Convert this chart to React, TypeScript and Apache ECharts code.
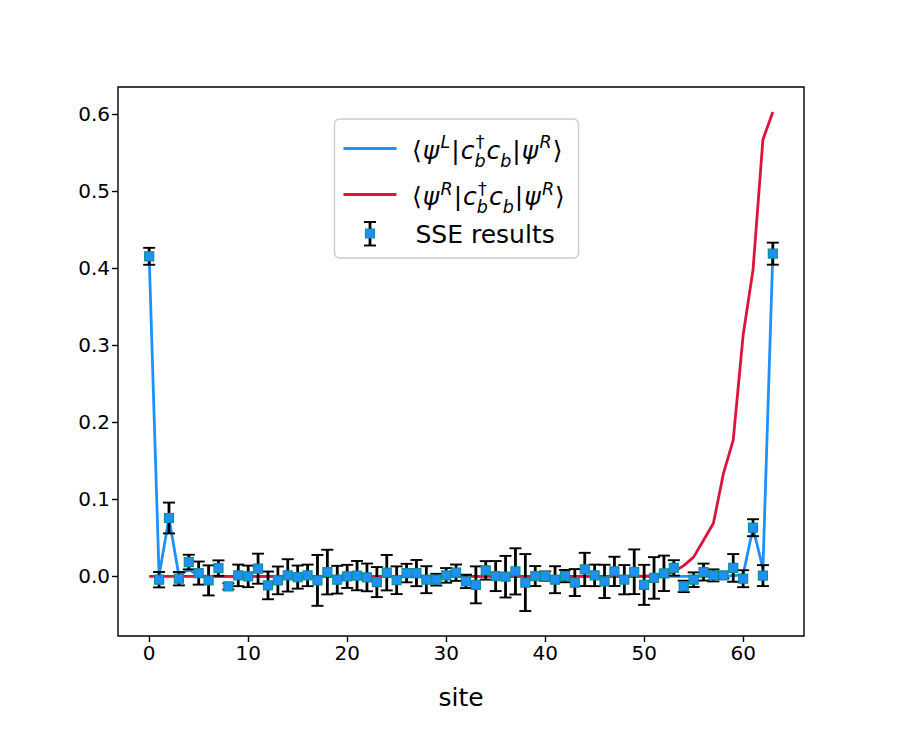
import React, { useEffect, useRef } from 'react';
import * as echarts from 'echarts';

const sites = [
  0, 1, 2, 3, 4, 5, 6, 7, 8, 9, 10, 11, 12, 13, 14, 15, 16, 17, 18, 19, 20, 21, 22, 23, 24, 25, 26, 27, 28, 29, 30, 31,
  32, 33, 34, 35, 36, 37, 38, 39, 40, 41, 42, 43, 44, 45, 46, 47, 48, 49, 50, 51, 52, 53, 54, 55, 56, 57, 58, 59, 60, 61, 62, 63,
];

const psiLExact = [
  0.4155, 0.001, 0.0757, 0.001, 0.009, 0.001, 0.0, 0.0, 0.0, 0.0, 0.0, 0.0, 0.0, 0.0, 0.0, 0.0,
  0.0, 0.0, 0.0, 0.0, 0.0, 0.0, 0.0, 0.0, 0.0, 0.0, 0.0, 0.0, 0.0, 0.0, 0.0, 0.0,
  0.0, 0.0, 0.0, 0.0, 0.0, 0.0, 0.0, 0.0, 0.0, 0.0, 0.0, 0.0, 0.0, 0.0, 0.0, 0.0,
  0.0, 0.0, 0.0, 0.0, 0.0, 0.0, 0.0, 0.0, 0.0, 0.0, 0.0, 0.001, 0.002, 0.0632, 0.01, 0.419,
];

const psiRExact = [
  0.0, 0.0, 0.0, 0.0, 0.0, 0.0, 0.0, 0.0, 0.0, 0.0, 0.0, 0.0, 0.0, 0.0, 0.0, 0.0,
  0.0, 0.0, 0.0, 0.0, 0.0, 0.0, 0.0, 0.0, 0.0, 0.0, 0.0, 0.0, 0.0, 0.0, 0.0, 0.0,
  0.0, 0.0, 0.0, 0.0, 0.0, 0.0, 0.0, 0.0, 0.0, 0.0, 0.0, 0.0, 0.0, 0.0, 0.0, 0.0,
  0.0, 0.0, 0.0003, 0.0008, 0.002, 0.006, 0.014, 0.025, 0.047, 0.069, 0.133, 0.177, 0.313, 0.398, 0.567, 0.603,
];

const sseValues = [
  0.4156, -0.0043, 0.0758, -0.003, 0.0186, 0.0043, -0.0052, 0.0108, -0.013, 0.0013, 0.0, 0.01, -0.0117, -0.0052, 0.0013, -0.0009,
  0.0013, -0.0052, 0.0056, -0.0043, 0.0, 0.001, -0.0013, -0.0074, 0.0048, -0.005, 0.0043, 0.0043, -0.0043, -0.0043, 0.0013, 0.0048,
  -0.0065, -0.011, 0.0078, 0.0004, -0.0004, 0.0065, -0.008, 0.0004, 0.0004, -0.0043, 0.0004, -0.008, 0.009, 0.0013, -0.0065, 0.0065,
  -0.0043, 0.006, -0.011, -0.002, 0.004, 0.011, -0.013, -0.0043, 0.0056, 0.0013, 0.0013, 0.011, -0.003, 0.0632, 0.001, 0.419,
];

const sseErrors = [
  0.011, 0.01, 0.02, 0.0087, 0.0095, 0.015, 0.0195, 0.01, 0.004, 0.014, 0.014, 0.0195, 0.018, 0.018, 0.021, 0.015,
  0.014, 0.033, 0.029, 0.018, 0.015, 0.019, 0.018, 0.0195, 0.023, 0.018, 0.012, 0.017, 0.0175, 0.0076, 0.0095, 0.0106,
  0.0087, 0.024, 0.012, 0.0195, 0.027, 0.03, 0.037, 0.013, 0.006, 0.0175, 0.008, 0.0175, 0.0216, 0.014, 0.0216, 0.019,
  0.019, 0.029, 0.026, 0.027, 0.023, 0.01, 0.0074, 0.0095, 0.011, 0.0078, 0.004, 0.018, 0.011, 0.011, 0.0136, 0.0143,
];

const xTicks = [0, 10, 20, 30, 40, 50, 60];
const yTicks = [0, 0.1, 0.2, 0.3, 0.4, 0.5, 0.6];
const sseLabel = 'SSE results';

const BLUE = '#1E90FF';
const RED = '#DC143C';
const MARKER_EDGE = '#0E9090';
const FONT = 'DejaVu Sans';

type Piece = { t: string; it?: boolean; sup?: string; sub?: string; supIt?: boolean; subIt?: boolean };

const row1: Piece[] = [
  { t: '⟨' },
  { t: 'ψ', it: true, sup: 'L', supIt: true },
  { t: '|' },
  { t: 'c', it: true, sup: '†', sub: 'b', subIt: true },
  { t: 'c', it: true, sub: 'b', subIt: true },
  { t: '|' },
  { t: 'ψ', it: true, sup: 'R', supIt: true },
  { t: '⟩' },
];
const row2: Piece[] = [
  { t: '⟨' },
  { t: 'ψ', it: true, sup: 'R', supIt: true },
  { t: '|' },
  { t: 'c', it: true, sup: '†', sub: 'b', subIt: true },
  { t: 'c', it: true, sub: 'b', subIt: true },
  { t: '|' },
  { t: 'ψ', it: true, sup: 'R', supIt: true },
  { t: '⟩' },
];

let measureCtx: CanvasRenderingContext2D | null = null;
function mw(text: string, size: number, italic?: boolean): number {
  if (!measureCtx) measureCtx = document.createElement('canvas').getContext('2d');
  if (!measureCtx) return text.length * size * 0.6;
  measureCtx.font = `${italic ? 'italic ' : ''}${size}px "${FONT}"`;
  return measureCtx.measureText(text).width;
}

function txt(text: string, x: number, baseline: number, size: number, italic?: boolean) {
  return {
    type: 'text',
    x,
    y: baseline - 0.346 * size,
    z: 102,
    style: {
      text,
      fontSize: size,
      fontFamily: FONT,
      fontStyle: italic ? 'italic' : 'normal',
      fill: '#000',
      textAlign: 'left',
      textVerticalAlign: 'middle',
      verticalAlign: 'middle',
    },
  };
}

function buildMath(pieces: Piece[], x0: number, base: number, F: number) {
  const out: any[] = [];
  let x = x0;
  const s = 0.7 * F;
  const gap = 0.04 * F;
  for (const p of pieces) {
    out.push(txt(p.t, x, base, F, p.it));
    x += mw(p.t, F, p.it);
    if (p.sup || p.sub) {
      let w = 0;
      if (p.sup) {
        const sx = x + (p.it ? 0.05 * F : 0.02 * F);
        out.push(txt(p.sup, sx, base - 0.43 * F, s, p.supIt));
        w = Math.max(w, mw(p.sup, s, p.supIt) + (sx - x));
      }
      if (p.sub) {
        out.push(txt(p.sub, x, base + 0.31 * F, s, p.subIt));
        w = Math.max(w, mw(p.sub, s, p.subIt));
      }
      x += w;
    }
    x += gap;
  }
  return out;
}

export default function App() {
  const ref = useRef<HTMLDivElement>(null);
  useEffect(() => {
    document.body.style.margin = '0';
    if (!ref.current) return;
    const chart = echarts.init(ref.current, undefined, { renderer: 'svg' });

    const LF = 25;
    const legendElems: any[] = [
      {
        type: 'rect',
        z: 100,
        shape: { x: 334.5, y: 119, width: 244, height: 139, r: 5 },
        style: { fill: 'rgba(255,255,255,0.8)', stroke: '#cccccc', lineWidth: 1.4 },
      },
      {
        type: 'line',
        z: 101,
        shape: { x1: 343.5, y1: 148.5, x2: 396.5, y2: 148.5 },
        style: { stroke: BLUE, lineWidth: 2.8 },
      },
      {
        type: 'line',
        z: 101,
        shape: { x1: 343.5, y1: 194.5, x2: 396.5, y2: 194.5 },
        style: { stroke: RED, lineWidth: 2.8 },
      },
      {
        type: 'line',
        z: 101,
        shape: { x1: 370, y1: 222, x2: 370, y2: 245.5 },
        style: { stroke: '#000', lineWidth: 2.8 },
      },
      {
        type: 'line',
        z: 101,
        shape: { x1: 364, y1: 222, x2: 376, y2: 222 },
        style: { stroke: '#000', lineWidth: 1.9 },
      },
      {
        type: 'line',
        z: 101,
        shape: { x1: 364, y1: 245.5, x2: 376, y2: 245.5 },
        style: { stroke: '#000', lineWidth: 1.9 },
      },
      {
        type: 'rect',
        z: 102,
        shape: { x: 365.5, y: 229, width: 9, height: 9 },
        style: { fill: BLUE, stroke: MARKER_EDGE, lineWidth: 1.2 },
      },
      ...buildMath(row1, 412, 159, LF),
      ...buildMath(row2, 412, 205.5, LF),
      txt(sseLabel, 415.5, 243.5, LF, false),
    ];

    const option: any = {
      animation: false,
      backgroundColor: '#ffffff',
      grid: {
        left: 118,
        top: 87,
        width: 686,
        height: 549,
        show: true,
        borderColor: '#000',
        borderWidth: 1.4,
        backgroundColor: 'transparent',
        containLabel: false,
      },
      xAxis: {
        type: 'value',
        min: -3.15,
        max: 66.15,
        name: 'site',
        nameLocation: 'middle',
        nameGap: 49,
        nameTextStyle: { fontSize: 25, fontFamily: FONT, color: '#000' },
        axisLine: { show: false, onZero: false },
        axisTick: { show: true, length: 6, lineStyle: { color: '#000', width: 1.4 }, customValues: xTicks },
        axisLabel: {
          show: true,
          margin: 7,
          fontSize: 20,
          fontFamily: FONT,
          color: '#000',
          customValues: xTicks,
          formatter: (v: number) => String(Math.round(v)),
        },
        splitLine: { show: false },
      },
      yAxis: {
        type: 'value',
        min: -0.0774,
        max: 0.6354,
        axisLine: { show: false, onZero: false },
        axisTick: { show: true, length: 6, lineStyle: { color: '#000', width: 1.4 }, customValues: yTicks },
        axisLabel: {
          show: true,
          margin: 8,
          fontSize: 20,
          fontFamily: FONT,
          color: '#000',
          customValues: yTicks,
          formatter: (v: number) => v.toFixed(1),
        },
        splitLine: { show: false },
      },
      series: [
        {
          type: 'line',
          name: 'psiL',
          data: sites.map((s, i) => [s, psiLExact[i]]),
          showSymbol: false,
          symbol: 'none',
          lineStyle: { color: BLUE, width: 2.8, join: 'round' },
          z: 2,
          silent: true,
        },
        {
          type: 'line',
          name: 'psiR',
          data: sites.map((s, i) => [s, psiRExact[i]]),
          showSymbol: false,
          symbol: 'none',
          lineStyle: { color: RED, width: 2.8, join: 'round' },
          z: 3,
          silent: true,
        },
        {
          type: 'custom',
          name: 'sseErr',
          data: sites.map((s, i) => [s, sseValues[i], sseErrors[i]]),
          encode: { x: 0, y: 1 },
          z: 4,
          silent: true,
          renderItem: (params: any, api: any) => {
            const x = api.value(0);
            const y = api.value(1);
            const e = api.value(2);
            const p1 = api.coord([x, y + e]);
            const p2 = api.coord([x, y - e]);
            const cw = 6;
            return {
              type: 'group',
              children: [
                { type: 'line', shape: { x1: p1[0], y1: p1[1], x2: p2[0], y2: p2[1] }, style: { stroke: '#000', lineWidth: 2.8 } },
                { type: 'line', shape: { x1: p1[0] - cw, y1: p1[1], x2: p1[0] + cw, y2: p1[1] }, style: { stroke: '#000', lineWidth: 1.9 } },
                { type: 'line', shape: { x1: p2[0] - cw, y1: p2[1], x2: p2[0] + cw, y2: p2[1] }, style: { stroke: '#000', lineWidth: 1.9 } },
              ],
            };
          },
        },
        {
          type: 'scatter',
          name: sseLabel,
          data: sites.map((s, i) => [s, sseValues[i]]),
          symbol: 'rect',
          symbolSize: 9,
          itemStyle: { color: BLUE, borderColor: MARKER_EDGE, borderWidth: 1.2, opacity: 1 },
          z: 5,
          silent: true,
        },
      ],
      graphic: { elements: legendElems },
    };

    chart.setOption(option);
    return () => chart.dispose();
  }, []);

  return <div ref={ref} style={{ position: 'fixed', left: 0, top: 0, width: 913, height: 731, background: '#fff' }} />;
}
